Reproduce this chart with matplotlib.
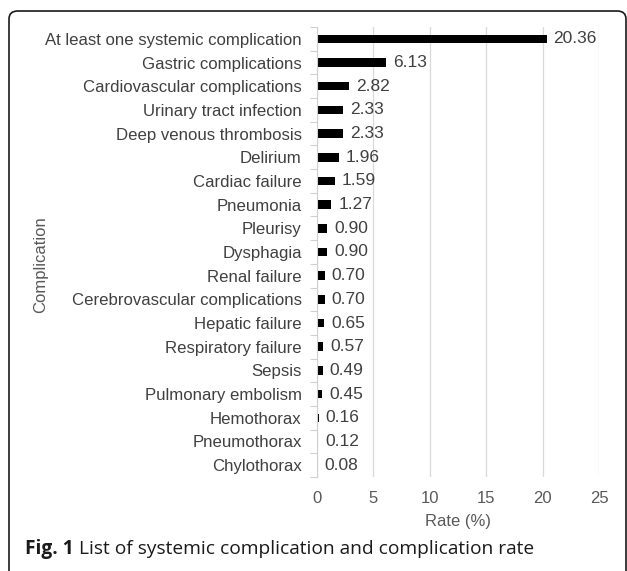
import matplotlib
matplotlib.use("Agg")
import matplotlib.pyplot as plt
from matplotlib.patches import FancyBboxPatch

categories = ["At least one systemic complication", "Gastric complications",
              "Cardiovascular complications", "Urinary tract infection",
              "Deep venous thrombosis", "Delirium", "Cardiac failure", "Pneumonia",
              "Pleurisy", "Dysphagia", "Renal failure", "Cerebrovascular complications",
              "Hepatic failure", "Respiratory failure", "Sepsis", "Pulmonary embolism",
              "Hemothorax", "Pneumothorax", "Chylothorax"]
values = [20.36, 6.13, 2.82, 2.33, 2.33, 1.96, 1.59, 1.27, 0.90, 0.90, 0.70, 0.70,
          0.65, 0.57, 0.49, 0.45, 0.16, 0.12, 0.08]
xticks = [0, 5, 10, 15, 20, 25]

plt.rcParams['font.family'] = ['Liberation Sans', 'DejaVu Sans']
W, H = 627, 571
fig = plt.figure(figsize=(W / 100, H / 100), dpi=100)

# rounded border (bottom and right partly clipped)
border = FancyBboxPatch((9 / W, 1 - 600 / H), (626 - 9) / W, (600 - 11) / H,
                        boxstyle="round,pad=0,rounding_size=0.014",
                        transform=fig.transFigure, fill=False, edgecolor='#1a1a1a',
                        linewidth=1.2, clip_on=False)
fig.patches.append(border)

ax = fig.add_axes([317 / W, 1 - 477 / H, (599 - 317) / W, (477 - 27) / H])
y = list(range(len(categories)))
ax.barh(y, values, height=0.36, color='black', zorder=3)
ax.set_ylim(len(categories) - 0.5, -0.5)
ax.set_xlim(0, 25)
ax.set_yticks(y)
ax.set_yticklabels(categories, fontsize=12.1, color='#404040')
ax.set_yticks([i - 0.5 for i in range(len(categories) + 1)], minor=True)
ax.tick_params(axis='y', which='major', length=0, pad=11)
ax.tick_params(axis='y', which='minor', length=5, color='#d0d0d0', width=0.8)
ax.set_xticks(xticks)
ax.set_xticklabels([str(t) for t in xticks], fontsize=12, color='#595959')
ax.tick_params(axis='x', length=0, pad=10)
ax.grid(axis='x', color='#d9d9d9', linewidth=0.9, zorder=0)
for s in ['top', 'right', 'bottom']:
    ax.spines[s].set_visible(False)
ax.spines['left'].set_color('#d0d0d0')
ax.spines['left'].set_linewidth(0.8)
ax.spines['left'].set_zorder(4)

for yi, v in zip(y, values):
    ax.annotate(f"{v:.2f}", (v, yi), xytext=(5, 0), textcoords='offset points',
                ha='left', va='center', fontsize=12.5, color='#404040')

ax.set_xlabel("Rate (%)", fontsize=12, color='#595959', labelpad=5.5)
fig.text(41 / W, 1 - 265 / H, "Complication", rotation=90, fontsize=12,
         color='#595959', ha='center', va='center')

cap_y = 1 - 549 / H
t1 = fig.text(25 / W, cap_y, "Fig. 1", fontsize=13.8, fontweight='bold',
              family=['Open Sans', 'DejaVu Sans'], color='#1a1a1a', va='center')
fig.canvas.draw()
bb = t1.get_window_extent()
fig.text((bb.x1 + 5) / W, cap_y, "List of systemic complication and complication rate",
         fontsize=13.8, family=['Open Sans', 'DejaVu Sans'], color='#1a1a1a', va='center')

fig.savefig("out.png", dpi=100)
